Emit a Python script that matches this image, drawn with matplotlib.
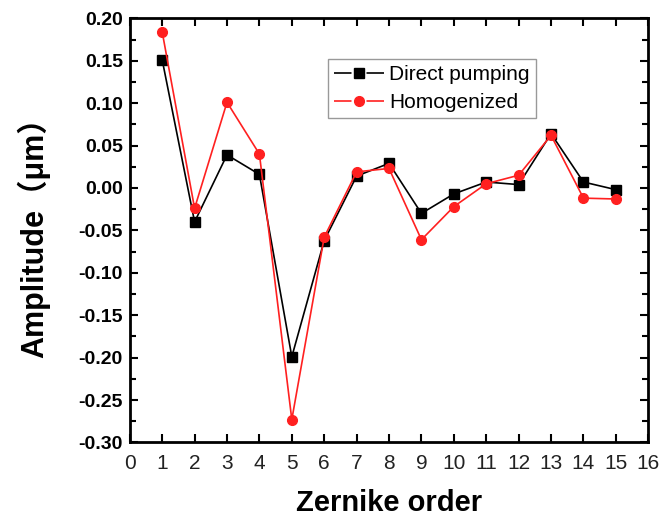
import matplotlib
matplotlib.use("Agg")
import matplotlib.pyplot as plt
from matplotlib.lines import Line2D
from matplotlib.legend_handler import HandlerTuple
from matplotlib.ticker import MultipleLocator

# Zernike coefficients of the wavefront for the two pumping schemes
orders = list(range(1, 16))
direct_pumping = [0.151, -0.040, 0.039, 0.016, -0.199, -0.062, 0.014, 0.029,
                  -0.030, -0.007, 0.007, 0.004, 0.064, 0.007, -0.002]
homogenized = [0.184, -0.024, 0.101, 0.040, -0.273, -0.058, 0.019, 0.023,
               -0.061, -0.022, 0.005, 0.015, 0.062, -0.012, -0.013]

plt.rcParams["font.family"] = ["Liberation Sans", "Noto Sans CJK SC", "DejaVu Sans"]

fig = plt.figure(figsize=(6.69, 5.23), dpi=100)
ax = fig.add_axes([0.194, 0.154, 0.775, 0.811])

styles = [("black", "s", 6.5), ("#ff2020", "o", 7)]
ax.plot(orders, direct_pumping, color=styles[0][0], lw=1.2, marker=styles[0][1],
        ms=styles[0][2])
ax.plot(orders, homogenized, color=styles[1][0], lw=1.2, marker=styles[1][1],
        ms=styles[1][2])

ax.set_xlim(0, 16)
ax.set_ylim(-0.30, 0.20)
ax.xaxis.set_major_locator(MultipleLocator(1))
ax.yaxis.set_major_locator(MultipleLocator(0.05))
ax.yaxis.set_minor_locator(MultipleLocator(0.025))
ax.yaxis.set_major_formatter(plt.FuncFormatter(lambda v, p: f"{v:.2f}"))

ax.tick_params(which="both", direction="in", top=True, right=True, width=1.5)
ax.tick_params(which="major", length=6)
ax.tick_params(which="minor", length=4)
ax.tick_params(axis="y", labelsize=14, pad=5)
ax.tick_params(axis="x", labelsize=15, pad=8, labelcolor="#222222")
for lab in ax.get_yticklabels():
    lab.set_fontweight("bold")
for lab in ax.get_xticklabels():
    lab.set_family(["Liberation Sans Narrow", "Liberation Sans"])

for sp in ax.spines.values():
    sp.set_linewidth(2)

ax.set_xlabel("Zernike order", fontsize=21, fontweight="bold", labelpad=12)
ax.set_ylabel("Amplitude（μm）", fontsize=22, fontweight="bold", labelpad=20)

# legend keys: line with a small gap either side of the marker
handles = []
for color, marker, ms in styles:
    seg = Line2D([], [], color=color, lw=1.2, dashes=(10.5, 9))
    dot = Line2D([], [], color=color, marker=marker, ms=ms, ls="none")
    handles.append((seg, dot))

leg = ax.legend(handles, ["Direct pumping", "Homogenized"],
                handler_map={tuple: HandlerTuple(ndivide=1)},
                loc="upper left", bbox_to_anchor=(0.3815, 0.9035), fontsize=15,
                frameon=True, fancybox=False, edgecolor="#808080",
                handlelength=2.4, borderpad=0.3, labelspacing=0.4,
                handletextpad=0.25, borderaxespad=0)
leg.get_frame().set_linewidth(1.0)

fig.savefig("out.png", dpi=100)
